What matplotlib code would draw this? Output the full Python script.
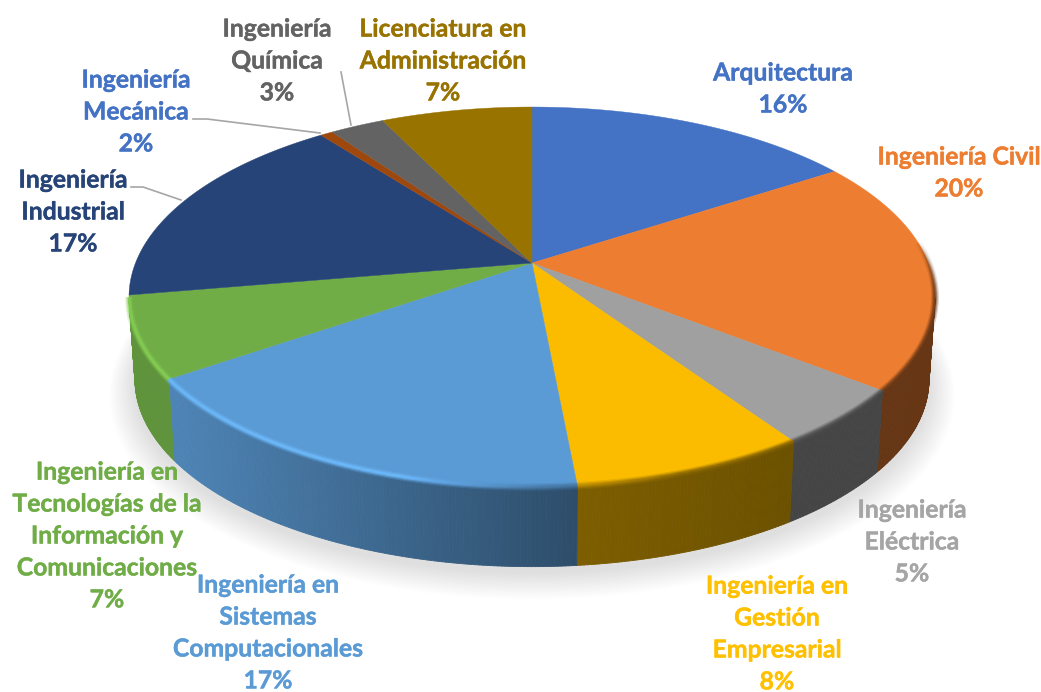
#!/usr/bin/env python3
"""
3D style pie chart of enrolment per career, drawn with a perspective projection.
"""

import numpy as np
import matplotlib
matplotlib.use('Agg')
import matplotlib.pyplot as plt
import matplotlib.patheffects as pe
from matplotlib.collections import LineCollection, PolyCollection
from matplotlib.colors import to_rgb

# Shares (the printed labels are rounded differently)
careers = ['Arquitectura', 'Ingeniería Civil', 'Ingeniería\nEléctrica',
           'Ingeniería en\nGestión\nEmpresarial',
           'Ingeniería en\nSistemas\nComputacionales',
           'Ingeniería en\nTecnologías de la\nInformación y\nComunicaciones',
           'Ingeniería\nIndustrial', 'Ingeniería\nMecánica',
           'Ingeniería\nQuímica', 'Licenciatura en\nAdministración']
shares = [15.8, 19.8, 4.9, 8.0, 16.9, 6.9, 17.3, 0.6, 2.6, 7.2]
printed = ['16%', '20%', '5%', '8%', '17%', '7%', '17%', '2%', '3%', '7%']
slice_colors = ['#4472C4', '#ED7D31', '#A0A0A0', '#FBBC00', '#5B9BD5',
                '#70AD47', '#264478', '#9E480E', '#636363', '#997300']
label_colors = ['#4472C4', '#ED7D31', '#A5A5A5', '#FFC000', '#5B9BD5',
                '#70AD47', '#264478', '#4472C4', '#636363', '#997300']
label_x = [783, 959, 912, 777, 268, 107, 73, 136, 277, 443]
label_y = [89, 173, 542, 634, 633, 536, 212, 112, 61, 61]

# Projection of the unit circle onto the picture
CX, CY = 532, 263
A, B, K = 396.5, 183.9, 0.179
WALL_SCALE, WALL_DROP = 0.985, 83


def project(t):
    """Angle clockwise from the top to picture coordinates of the top rim."""
    u, v = np.sin(t), -np.cos(t)
    den = 1 - K * v
    return CX + A * u / den, CY + B * v / den


def project_low(t):
    """Same as project but for the lower rim of the wall."""
    x, y = project(t)
    return CX + (x - CX) * WALL_SCALE, CY + (y - CY) * WALL_SCALE + WALL_DROP


def wall_shade(x):
    return np.interp(x, [128, 177, 576, 790, 925], [0.85, 0.85, 0.5, 0.43, 0.43])


def rim_shade(x):
    return np.interp(x, [128, 400, 540, 680, 933], [1.22, 1.22, 0.8, 0.55, 0.45])


def scaled(color, f):
    return tuple(np.clip(np.array(to_rgb(color)) * f, 0, 1))


fig = plt.figure(figsize=(10.41, 6.92), dpi=100)
ax = fig.add_axes([0, 0, 1, 1])
ax.set_xlim(0, 1041)
ax.set_ylim(692, 0)
ax.axis('off')

edges = np.cumsum([0] + shares) / sum(shares) * 2 * np.pi

# Soft shadow under the wall
tt = np.linspace(0, 2 * np.pi, 361)
lx, ly = project_low(tt)
for grow in np.linspace(26, 1, 16):
    sx = CX + (lx - CX) * (1 + grow / 400)
    sy = CY + 6 + (ly - CY) * (1 + grow / 300)
    ax.fill(sx, sy, color='black', alpha=0.009, lw=0, zorder=1)

# Outer wall, thin quads so the shade can change along the arc
for i, color in enumerate(slice_colors):
    t = np.linspace(edges[i], edges[i + 1], max(4, int(shares[i] * 8)))
    t = t[-np.cos(t) > K]
    if len(t) < 2:
        continue
    x1, y1 = project(t)
    x2, y2 = project_low(t)
    quads = [[(x1[j], y1[j]), (x1[j + 1], y1[j + 1]), (x2[j + 1], y2[j + 1]), (x2[j], y2[j])]
             for j in range(len(t) - 1)]
    cols = [scaled(color, wall_shade(x1[j])) for j in range(len(t) - 1)]
    ax.add_collection(PolyCollection(quads, facecolors=cols, edgecolors=cols, linewidths=0.6, zorder=2))

# Top face
for i, color in enumerate(slice_colors):
    t = np.linspace(edges[i], edges[i + 1], 80)
    x, y = project(t)
    ax.fill(np.r_[CX, x], np.r_[CY, y], color=color, lw=0.3, zorder=3)

# Bevel along the front of the rim, fading out on the upper right
for i, color in enumerate(slice_colors):
    t = np.linspace(edges[i], edges[i + 1], max(8, int(shares[i] * 30)))
    v = -np.cos(t)
    t = t[(v > K) | ((np.sin(t) > 0) & (v > K - 0.3))]
    if len(t) < 2:
        continue
    x, y = project(t)
    pts = np.c_[x, y]
    segs = np.stack([pts[:-1], pts[1:]], axis=1)
    fade = np.clip((-np.cos(t[:-1]) - (K - 0.3)) / 0.3, 0, 1)
    for width, alpha in [(5.5, 0.25), (3.6, 0.45), (2.0, 0.8)]:
        cols = [scaled(color, rim_shade(p)) + (alpha * f,) for p, f in zip(x[:-1], fade)]
        ax.add_collection(LineCollection(segs, colors=cols, linewidths=width,
                                         capstyle='butt', zorder=4))

# Leader lines
leader_x = [[193, 207, 320], [341, 351], [131, 143, 181]]
leader_y = [[119, 119, 133], [72, 125], [187, 187, 200]]
for lead_x, lead_y in zip(leader_x, leader_y):
    ax.plot(lead_x, lead_y, color='#A6A6A6', lw=1.2, zorder=5)

# Labels
for i, name in enumerate(careers):
    ax.text(label_x[i], label_y[i], name + '\n' + printed[i], color=label_colors[i],
            family='Lato', fontweight='bold', fontsize=17.8, ha='center', va='center',
            linespacing=1.47, zorder=6,
            path_effects=[pe.withStroke(linewidth=0.3, foreground=label_colors[i])])

fig.savefig('out.png', dpi=100)
